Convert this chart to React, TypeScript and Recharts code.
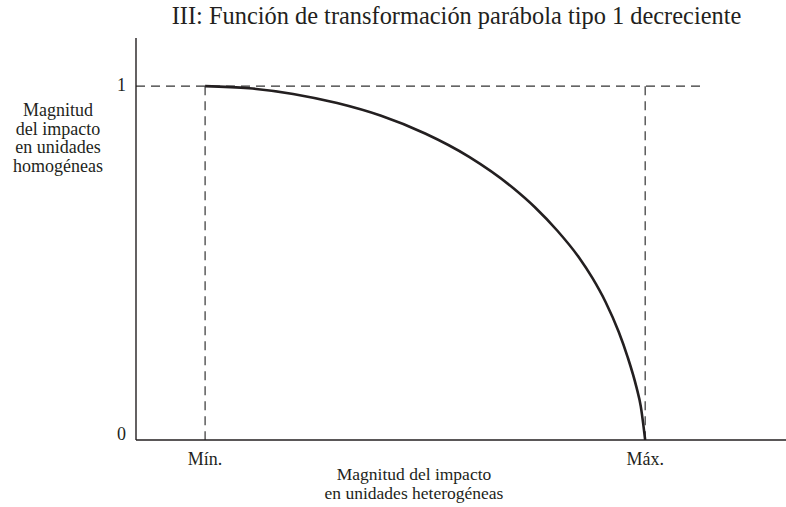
import { LineChart, Line, XAxis, YAxis, ReferenceLine } from "recharts";

// curve: x in % of the Mín..Máx range, y in homogeneous units
const curveX = [0, 10, 20, 30, 40, 50, 60, 70, 75, 80, 85, 88, 91, 94, 96, 98, 99, 100];
const curveY = [1, 0.994, 0.978, 0.952, 0.916, 0.866, 0.8, 0.712, 0.657, 0.592, 0.515, 0.458, 0.39, 0.305, 0.235, 0.15, 0.095, 0];

const xTicks = [0, 100];
const xTickLabels = ["Mín.", "Máx."];
const yTicks = [0, 1];
const yTickLabels = ["0", "1"];

const xDomain = [-15.7, 132];
const yDomain = [0, 1.136];
const guideEnd = 113.6; // where the dashed y=1 guide stops

const title = "III: Función de transformación parábola tipo 1 decreciente";
const yTitle = ["Magnitud", "del impacto", "en unidades", "homogéneas"];
const xTitle = ["Magnitud del impacto", "en unidades heterogéneas"];

const data = curveX.map((x, i) => ({ x, y: curveY[i] }));

const FONT = "'Liberation Serif', 'Times New Roman', serif";
const INK = "#231f20";

const XTick = (props: any) => {
    const { x, y, payload } = props;
    const label = xTickLabels[xTicks.indexOf(payload.value)];
    return (
        <text x={x} y={y} dy={25} textAnchor="middle" fontFamily={FONT} fontSize={18} fill={INK}>
            {label}
        </text>
    );
};

const YTick = (props: any) => {
    const { x, y, payload } = props;
    const label = yTickLabels[yTicks.indexOf(payload.value)];
    return (
        <text x={x} y={y} dy={payload.value === 0 ? 0 : 5} textAnchor="end" fontFamily={FONT} fontSize={18} fill={INK}>
            {label}
        </text>
    );
};

export default function App() {
    return (
        <div style={{ position: "relative", width: 786, height: 507, background: "#fff", fontFamily: FONT, color: INK }}>
            <style>{"body{margin:0}"}</style>
            <LineChart width={786} height={507} data={data} margin={{ top: 38, right: 0, bottom: 37, left: 96 }}>
                <XAxis
                    dataKey="x"
                    type="number"
                    domain={xDomain}
                    ticks={xTicks}
                    tick={<XTick />}
                    tickLine={false}
                    tickSize={0}
                    tickMargin={0}
                    height={30}
                    axisLine={{ stroke: INK, strokeWidth: 1.4 }}
                    allowDataOverflow
                />
                <YAxis
                    type="number"
                    domain={yDomain}
                    ticks={yTicks}
                    tick={<YTick />}
                    tickLine={false}
                    tickSize={0}
                    tickMargin={10}
                    width={40}
                    axisLine={{ stroke: INK, strokeWidth: 1.4 }}
                    allowDataOverflow
                />
                <ReferenceLine
                    segment={[{ x: xDomain[0], y: 1 }, { x: guideEnd, y: 1 }]}
                    stroke="#333"
                    strokeWidth={1.2}
                    strokeDasharray="9 6"
                />
                <ReferenceLine
                    segment={[{ x: xTicks[0], y: 1 }, { x: xTicks[0], y: 0 }]}
                    stroke="#333"
                    strokeWidth={1.2}
                    strokeDasharray="9 6"
                />
                <ReferenceLine
                    segment={[{ x: xTicks[1], y: 1 }, { x: xTicks[1], y: 0 }]}
                    stroke="#333"
                    strokeWidth={1.2}
                    strokeDasharray="9 6"
                />
                <Line
                    type="monotone"
                    dataKey="y"
                    stroke={INK}
                    strokeWidth={2.6}
                    dot={false}
                    isAnimationActive={false}
                />
            </LineChart>

            <div style={{ position: "absolute", left: 0, top: 2, width: 913, textAlign: "center", fontSize: 24.4, whiteSpace: "nowrap" }}>
                {title}
            </div>
            <div style={{ position: "absolute", left: 0, top: 101, width: 116, textAlign: "center", fontSize: 18, lineHeight: "18.7px" }}>
                {yTitle.map((t) => <div key={t}>{t}</div>)}
            </div>
            <div style={{ position: "absolute", left: 264, top: 465, width: 300, textAlign: "center", fontSize: 17.5, lineHeight: "19px", whiteSpace: "nowrap" }}>
                {xTitle.map((t) => <div key={t}>{t}</div>)}
            </div>
        </div>
    );
}
